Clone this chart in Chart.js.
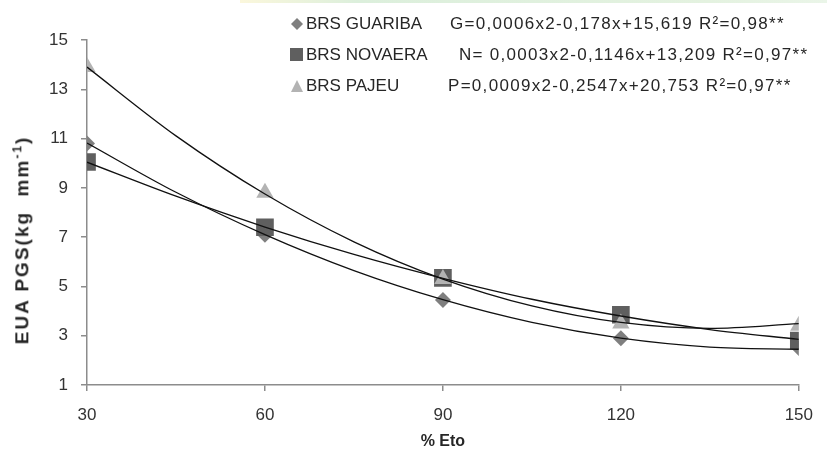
<!DOCTYPE html>
<html>
<head>
<meta charset="utf-8">
<script src="https://cdn.jsdelivr.net/npm/chart.js@4"></script>
<style>
  body { margin: 0; background: #fff; }
  #wrap { position: relative; width: 827px; height: 457px; font-family: "Liberation Sans", Arial, sans-serif; color: #262626; }
  #topband { position: absolute; left: 240px; top: 0; width: 587px; height: 3px;
    background: linear-gradient(to right, #fbf7dc, #dcefdc 20%, #e4f2e0 80%, #eaf5e8); }
  .leg { position: absolute; left: 290px; font-size: 17px; line-height: 20px; white-space: nowrap; }
  .leg svg { vertical-align: -2px; margin-right: 2px; }
  .eq { position: absolute; font-size: 17px; line-height: 20px; letter-spacing: 1.3px; white-space: nowrap; }
  #ytitle { position: absolute; left: 22px; top: 240px; font-weight: bold; font-size: 19px; white-space: pre;
    letter-spacing: 2px; transform: translate(-50%, -50%) rotate(-90deg); }
  #ytitle sup { font-size: 12px; }
</style>
</head>
<body>
<div id="wrap">
  <div id="topband"></div>
  <canvas id="myChart" width="827" height="457"></canvas>
  <div class="leg" style="top:14px"><svg width="14" height="14"><polygon points="7,1 13,7 7,13 1,7" fill="#7f7f7f"/></svg>BRS GUARIBA</div>
  <div class="leg" style="top:45px"><svg width="14" height="14"><rect x="0" y="0" width="13" height="13" fill="#5f5f5f"/></svg>BRS NOVAERA</div>
  <div class="leg" style="top:76px"><svg width="14" height="14"><polygon points="7,1 13,13 1,13" fill="#b3b3b3"/></svg>BRS PAJEU</div>
  <div class="eq" style="top:14px; left:450px">G=0,0006x2-0,178x+15,619 R²=0,98**</div>
  <div class="eq" style="top:45px; left:459px">N= 0,0003x2-0,1146x+13,209 R²=0,97**</div>
  <div class="eq" style="top:76px; left:448px">P=0,0009x2-0,2547x+20,753 R²=0,97**</div>
  <div id="ytitle">EUA PGS(kg  mm<sup>-1</sup>)</div>
</div>
<script>
// % Eto levels
const etoLevels = [30, 60, 90, 120, 150];
// observed EUA PGS per cultivar
const guariba = [10.8, 7.1, 4.45, 2.9, 2.5];
const novaera = [10.05, 7.4, 5.35, 3.85, 2.8];
const pajeu = [13.9, 8.8, 5.3, 3.5, 3.4];

// trend lines
const trendX = [30, 45, 60, 75, 90, 105, 120, 135, 150];
const fitG = [10.82, 8.82, 7.10, 5.64, 4.46, 3.54, 2.90, 2.54, 2.45];
const fitN = [10.04, 8.66, 7.41, 6.30, 5.33, 4.48, 3.80, 3.25, 2.85];
const fitP = [13.90, 11.11, 8.75, 6.81, 5.30, 4.21, 3.54, 3.30, 3.49];

const yTicks = [1, 3, 5, 7, 9, 11, 13, 15];

function pts(xs, ys) {
    return xs.map((x, i) => ({ x: x, y: ys[i] }));
}

function markerSet(label, ys, style, radius, color, order) {
    return {
        label: label,
        data: pts(etoLevels, ys),
        showLine: false,
        pointStyle: style,
        pointRadius: radius,
        pointHoverRadius: radius,
        backgroundColor: color,
        borderColor: color,
        borderWidth: 0,
        order: order
    };
}

function trendSet(ys) {
    return {
        data: pts(trendX, ys),
        showLine: true,
        pointRadius: 0,
        borderColor: '#111',
        borderWidth: 1.3,
        cubicInterpolationMode: 'monotone',
        order: 0
    };
}

const axisColor = '#8c8c8c';
const tickFont = { family: 'Liberation Sans', size: 17 };

const ctx = document.getElementById('myChart').getContext('2d');
const myChart = new Chart(ctx, {
    type: 'scatter',
    data: {
        datasets: [
            trendSet(fitG),
            trendSet(fitN),
            trendSet(fitP),
            markerSet('BRS GUARIBA', guariba, 'rectRot', 8, '#7f7f7f', 3),
            markerSet('BRS NOVAERA', novaera, 'rect', 12.5, '#5f5f5f', 2),
            markerSet('BRS PAJEU', pajeu, 'triangle', 10, '#b3b3b3', 1)
        ]
    },
    options: {
        responsive: false,
        animation: false,
        layout: { padding: { top: 40, right: 17, left: 0, bottom: 0 } },
        plugins: {
            legend: { display: false },
            tooltip: { enabled: false }
        },
        scales: {
            x: {
                type: 'linear',
                min: 30,
                max: 150,
                afterFit: function(scale) { scale.height = 72; },
                afterBuildTicks: function(scale) {
                    scale.ticks = etoLevels.map(v => ({ value: v }));
                },
                grid: { display: true, drawOnChartArea: false, drawTicks: true, tickLength: 6, color: axisColor, lineWidth: 1.5 },
                border: { display: true, color: axisColor, width: 1.5 },
                ticks: { color: '#333', font: tickFont, padding: 14, maxRotation: 0 },
                title: {
                    display: true,
                    text: '% Eto',
                    color: '#262626',
                    font: { family: 'Liberation Sans', size: 16, weight: 'bold' },
                    padding: { top: 0, bottom: 6 }
                }
            },
            y: {
                min: 1,
                max: 15,
                afterFit: function(scale) { scale.width = 87; },
                afterBuildTicks: function(scale) {
                    scale.ticks = yTicks.map(v => ({ value: v }));
                },
                grid: { display: true, drawOnChartArea: false, drawTicks: true, tickLength: 6, color: axisColor, lineWidth: 1.5 },
                border: { display: true, color: axisColor, width: 1.5 },
                ticks: { color: '#333', font: tickFont, padding: 13 }
            }
        }
    }
});
</script>
</body>
</html>
